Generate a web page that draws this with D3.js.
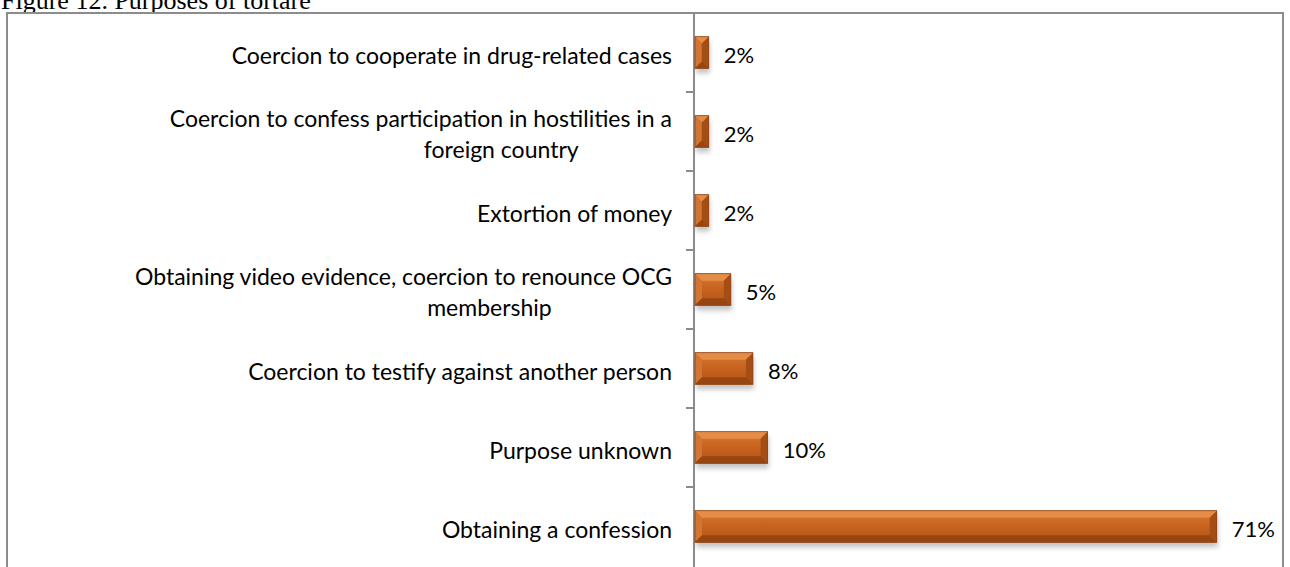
<!DOCTYPE html>
<html>
<head>
<meta charset="utf-8">
<script src="https://cdn.jsdelivr.net/npm/d3@7"></script>
<style>
  html, body { margin: 0; padding: 0; background: #fff; }
  svg { display: block; }
</style>
</head>
<body>
<svg id="chart" width="1290" height="567"></svg>
<script>
// Purposes of torture, share of cases (%)
const categories = [
  ["Coercion to cooperate in drug-related cases"],
  ["Coercion to confess participation in hostilities in a", "foreign country"],
  ["Extortion of money"],
  ["Obtaining video evidence, coercion to renounce OCG", "membership"],
  ["Coercion to testify against another person"],
  ["Purpose unknown"],
  ["Obtaining a confession"]
];
const values = [2, 2, 2, 5, 8, 10, 71];
const valueLabels = ["2%", "2%", "2%", "5%", "8%", "10%", "71%"];
const title = "Figure 12. Purposes of tortare";

const W = 1290, H = 567;
const frame = { left: 7, top: 13, right: 1283 };
const axisX = 694;
const plotBottom = 566;

const svg = d3.select("#chart");
const defs = svg.append("defs");

// Face gradient and soft drop shadow for the bevelled bars
const face = defs.append("linearGradient").attr("id", "face")
  .attr("x1", 0).attr("y1", 0).attr("x2", 0).attr("y2", 1);
face.append("stop").attr("offset", "0%").attr("stop-color", "#D67A33");
face.append("stop").attr("offset", "50%").attr("stop-color", "#C6621E");
face.append("stop").attr("offset", "100%").attr("stop-color", "#B4541A");

const shadow = defs.append("filter").attr("id", "shadow")
  .attr("x", "-20%").attr("y", "-40%").attr("width", "140%").attr("height", "200%");
shadow.append("feGaussianBlur").attr("stdDeviation", 2.5);

// Title (its top runs past the page edge)
svg.append("text")
  .attr("x", 1).attr("y", 9)
  .attr("font-family", "'Liberation Serif', 'Times New Roman', serif")
  .attr("font-size", 26)
  .attr("fill", "#000")
  .text(title);

// Chart frame
svg.append("rect")
  .attr("x", frame.left).attr("y", frame.top)
  .attr("width", frame.right - frame.left).attr("height", H + 20)
  .attr("fill", "none").attr("stroke", "#8C8C8C").attr("stroke-width", 2);

const y = d3.scaleBand()
  .domain(d3.range(categories.length))
  .range([frame.top, plotBottom])
  .paddingInner(0.6)
  .paddingOuter(0.3);

const x = d3.scaleLinear().domain([0, 80]).range([axisX, frame.right]);

// Category axis: line plus ticks on band boundaries
const axisG = svg.append("g");
axisG.append("line")
  .attr("x1", axisX).attr("x2", axisX)
  .attr("y1", frame.top).attr("y2", H)
  .attr("stroke", "#8C8C8C").attr("stroke-width", 2);
const gap = y.step() - y.bandwidth();
const boundaries = d3.range(1, categories.length).map(i => y(i) - gap / 2);
axisG.selectAll("line.tick").data(boundaries).join("line")
  .attr("class", "tick")
  .attr("x1", axisX - 8).attr("x2", axisX)
  .attr("y1", d => d).attr("y2", d => d)
  .attr("stroke", "#8C8C8C").attr("stroke-width", 2);

// Category labels (continuation lines sit under the right part of the first line)
const font = "Lato, 'Open Sans', sans-serif";
const labelRight = 672;
const lineGap = 31;
const labelG = svg.append("g")
  .attr("font-family", font).attr("font-size", 23).attr("fill", "#000");

categories.forEach((lines, i) => {
  const cy = y(i) + y.bandwidth() / 2 + 2;
  const top = cy - (lines.length - 1) * lineGap / 2;
  const g = labelG.append("g");
  const firstLine = g.append("text")
    .attr("x", labelRight).attr("y", top)
    .attr("text-anchor", "end").attr("dominant-baseline", "central")
    .text(lines[0]);
  const w0 = firstLine.node().getComputedTextLength();
  const center = labelRight - w0 / 2;
  lines.slice(1).forEach((ln, k) => {
    g.append("text")
      .attr("x", center + w0 * 0.16)
      .attr("y", top + (k + 1) * lineGap)
      .attr("text-anchor", "middle").attr("dominant-baseline", "central")
      .text(ln);
  });
});

// Bevelled bars
const bars = svg.append("g").selectAll("g.bar").data(values).join("g").attr("class", "bar");

bars.each(function (v, i) {
  const g = d3.select(this);
  const x0 = x(0) + 1, x1 = x(v);
  const y0 = y(i), h = y.bandwidth(), y1 = y0 + h;
  const w = x1 - x0;
  const b = Math.min(7, w / 2, h / 2);

  g.append("rect")
    .attr("x", x0 + 1).attr("y", y0 + 5)
    .attr("width", w).attr("height", h)
    .attr("fill", "#7a7a7a").attr("opacity", 0.45)
    .attr("filter", "url(#shadow)");

  g.append("rect")
    .attr("x", x0).attr("y", y0).attr("width", w).attr("height", h)
    .attr("fill", "url(#face)");

  const poly = (pts, fill) => g.append("polygon")
    .attr("points", pts.map(p => p.join(",")).join(" "))
    .attr("fill", fill);

  // top, left, right, bottom bevel facets
  poly([[x0, y0], [x1, y0], [x1 - b, y0 + b], [x0 + b, y0 + b]], "#E58D48");
  poly([[x0, y0], [x0 + b, y0 + b], [x0 + b, y1 - b], [x0, y1]], "#D27532");
  poly([[x1, y0], [x1, y1], [x1 - b, y1 - b], [x1 - b, y0 + b]], "#A54E14");
  poly([[x0, y1], [x0 + b, y1 - b], [x1 - b, y1 - b], [x1, y1]], "#984611");

  g.append("rect")
    .attr("x", x0).attr("y", y0).attr("width", w).attr("height", h)
    .attr("fill", "none").attr("stroke", "#8A3F0E").attr("stroke-width", 0.8);
});

// Value labels
svg.append("g")
  .attr("font-family", font).attr("font-size", 22).attr("fill", "#000")
  .selectAll("text").data(values).join("text")
  .attr("x", d => x(d) + 15)
  .attr("y", (d, i) => y(i) + y.bandwidth() / 2 + 2)
  .attr("dominant-baseline", "central")
  .text((d, i) => valueLabels[i]);
</script>
</body>
</html>
